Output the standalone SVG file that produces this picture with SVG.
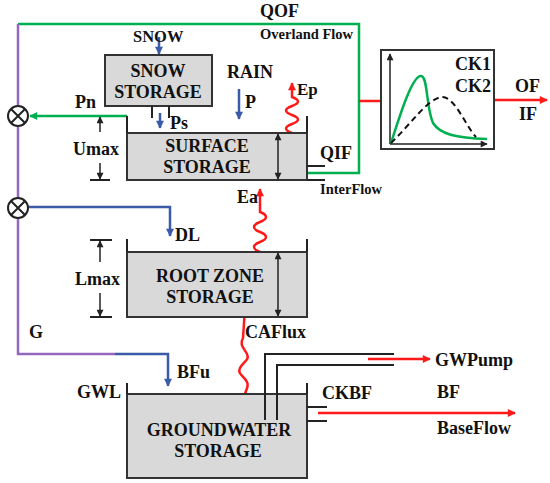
<svg xmlns="http://www.w3.org/2000/svg" width="550" height="483" viewBox="0 0 550 483">
<style>
text{font-family:"Liberation Serif","Times New Roman",serif;font-weight:bold;fill:#111;font-size:18px}
.sm{font-size:14.5px}
.c{text-anchor:middle}
.box{fill:#d9d9d9;stroke:#333;stroke-width:2}
.k{fill:none;stroke:#222;stroke-width:2}
.g{fill:none;stroke:#00b050;stroke-width:2.5}
.pu{fill:none;stroke:#9467bd;stroke-width:2.5}
.b{fill:none;stroke:#3b5ba9;stroke-width:2.5}
.r{fill:none;stroke:#ff1a1a;stroke-width:2.5}
</style>
<defs>
<marker id="ak" viewBox="0 0 10 10" refX="9" refY="5" markerWidth="8" markerHeight="7" markerUnits="userSpaceOnUse" orient="auto-start-reverse"><path d="M0,0 L10,5 L0,10 z" fill="#222"/></marker>
<marker id="ag" viewBox="0 0 10 10" refX="9" refY="5" markerWidth="9" markerHeight="8" markerUnits="userSpaceOnUse" orient="auto"><path d="M0,0 L10,5 L0,10 z" fill="#00b050"/></marker>
<marker id="ab" viewBox="0 0 10 10" refX="9" refY="5" markerWidth="9" markerHeight="8" markerUnits="userSpaceOnUse" orient="auto"><path d="M0,0 L10,5 L0,10 z" fill="#3b5ba9"/></marker>
<marker id="ar" viewBox="0 0 10 10" refX="9" refY="5" markerWidth="9" markerHeight="8" markerUnits="userSpaceOnUse" orient="auto"><path d="M0,0 L10,5 L0,10 z" fill="#ff1a1a"/></marker>
</defs>

<g id="connectors">
<path class="g" d="M308,173 H359 V24 H18"/>
<path class="pu" d="M18,24 V354 H115"/>
<path class="b" d="M115,354 H168 V386" marker-end="url(#ab)"/>
<path class="g" d="M127,116 H30" marker-end="url(#ag)"/>
<path class="b" d="M28,207 H170 V236" marker-end="url(#ab)"/>
<path class="b" d="M159,37 V54" marker-end="url(#ab)"/>
<path class="b" d="M160,113 V128" marker-end="url(#ab)"/>
<path class="b" d="M239,89 V119" marker-end="url(#ab)"/>
<path class="r" d="M359,101 H380"/>
<path class="r" d="M494,100 H547" marker-end="url(#ar)"/>
<path class="r" d="M292,133 c-8,-3 -8,-6 0,-9 c8,-3 8,-6 0,-9 c-8,-3 -8,-6 0,-9 c8,-3 8,-6 0,-9 L292,83" marker-end="url(#ar)"/>
<path class="r" d="M260,252 c-8,-3 -8,-7 0,-10 c8,-3 8,-7 0,-10 c-8,-3 -8,-7 0,-10 c8,-3 8,-7 0,-10 L260,189" marker-end="url(#ar)"/>
<path class="r" d="M245,398 c-2,-6 5,-10 2,-16 c-3,-6 -10,-8 -7,-14 c3,-6 10,-8 7,-14 c-3,-6 -8,-9 -4,-16 L245,308" marker-end="url(#ar)"/>
<path class="r" d="M368,359 H430" marker-end="url(#ar)"/>
<path class="r" d="M318,413 H515" marker-end="url(#ar)"/>
</g>

<g id="junction1">
<circle cx="18" cy="116" r="10" fill="#fff" stroke="#222" stroke-width="2"/>
<path class="k" d="M11,109 L25,123 M25,109 L11,123"/>
</g>
<g id="junction2">
<circle cx="18" cy="208" r="10" fill="#fff" stroke="#222" stroke-width="2"/>
<path class="k" d="M11,201 L25,215 M25,201 L11,215"/>
</g>

<g id="labels">
<text x="260" y="17">QOF</text>
<text class="sm" x="260" y="39">Overland Flow</text>
<text x="133" y="42" style="font-size:16.5px">SNOW</text>
<text x="227" y="78">RAIN</text>
<text x="245" y="108">P</text>
<text x="75" y="108">Pn</text>
<text x="170" y="129">Ps</text>
<text x="297" y="95" style="font-size:17px">Ep</text>
<text x="73" y="155">Umax</text>
<text x="283" y="163">U</text>
<text x="320" y="159">QIF</text>
<text class="sm" x="320" y="194">InterFlow</text>
<text x="237" y="203">Ea</text>
<text x="175" y="241">DL</text>
<text x="75" y="285">Lmax</text>
<text x="283" y="293">L</text>
<text x="29" y="338">G</text>
<text x="245" y="338">CAFlux</text>
<text x="435" y="366">GWPump</text>
<text x="177" y="378">BFu</text>
<text x="77" y="398">GWL</text>
<text x="322" y="399">CKBF</text>
<text x="437" y="398">BF</text>
<text x="437" y="434">BaseFlow</text>
</g>

<g id="snow-storage">
<rect class="box" x="105" y="55" width="107" height="51"/>
<text class="c" x="158" y="77">SNOW</text>
<text class="c" x="158" y="98">STORAGE</text>
<path class="k" d="M152,106 V118 M169,106 V118"/>
</g>

<g id="surface-storage">
<rect class="box" x="127" y="133" width="180" height="47"/>
<path class="k" d="M127,133 V116 M307,133 V116 M307,166 H325 M307,180 H325"/>
<text class="c" x="207" y="152">SURFACE</text>
<text class="c" x="207" y="173">STORAGE</text>
<path class="k" d="M278,134 V179" marker-start="url(#ak)" marker-end="url(#ak)" style="stroke-width:1.5"/>
<path class="k" d="M100,132 V117" marker-end="url(#ak)" style="stroke-width:1.5"/>
<path class="k" d="M100,163 V179" marker-end="url(#ak)" style="stroke-width:1.5"/>
<path class="k" d="M90,180 H110"/>
</g>

<g id="root-zone-storage">
<rect class="box" x="127" y="252" width="180" height="65"/>
<path class="k" d="M127,252 V239 M307,252 V239"/>
<text class="c" x="210" y="282">ROOT ZONE</text>
<text class="c" x="210" y="303">STORAGE</text>
<path class="k" d="M278,253 V316" marker-start="url(#ak)" marker-end="url(#ak)" style="stroke-width:1.5"/>
<path class="k" d="M90,240 H112 M90,317 H112"/>
<path class="k" d="M100,262 V241" marker-end="url(#ak)" style="stroke-width:1.5"/>
<path class="k" d="M100,293 V316" marker-end="url(#ak)" style="stroke-width:1.5"/>
</g>

<g id="groundwater-storage">
<rect class="box" x="127" y="394" width="180" height="84"/>
<path class="k" d="M127,394 V383 M307,394 V383"/>
<path class="k" d="M265,420 V354 H394 M277,420 V365 H394"/>
<path class="k" d="M307,407 H327 M307,421 H327"/>
<text class="c" x="219" y="436">GROUNDWATER</text>
<text class="c" x="218" y="457">STORAGE</text>
</g>

<g id="routing">
<rect x="381" y="50" width="113" height="99" fill="#fff" stroke="#333" stroke-width="2"/>
<path class="k" d="M390,144 V54" marker-end="url(#ak)" style="stroke-width:1.5"/>
<path class="k" d="M390,144 H487" marker-end="url(#ak)" style="stroke-width:1.5"/>
<path d="M391,143 C400,115 412,76 421,76 C428,76 426,108 433,123 C440,134 455,138 487,139" fill="none" stroke="#00b050" stroke-width="2.5"/>
<path d="M391,143 C410,125 428,98 442,97 C455,97 465,125 476,137" fill="none" stroke="#111" stroke-width="2" stroke-dasharray="6,4"/>
<text x="455" y="70">CK1</text>
<text x="455" y="92">CK2</text>
<text x="515" y="92">OF</text>
<text x="519" y="120">IF</text>
</g>
</svg>
